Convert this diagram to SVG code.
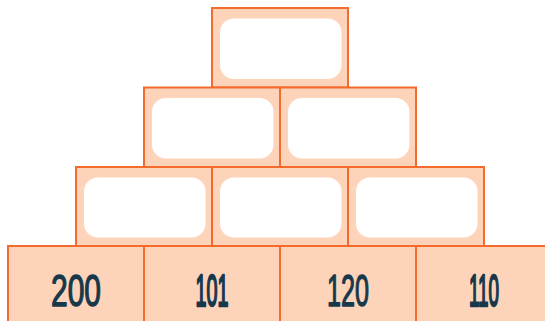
<svg xmlns="http://www.w3.org/2000/svg" width="545" height="321" viewBox="0 0 545 321">
<style>
.b{fill:#FDD4BA;stroke:#F56B2D;stroke-width:2}
.w{fill:#FFFFFF}
.t{font-family:"Liberation Sans",Arial,sans-serif;font-size:45px;fill:#17384A;stroke:#17384A;stroke-width:1.4;stroke-linejoin:round;text-anchor:middle}
.n{stroke-width:2.4}
</style>
<rect width="545" height="321" fill="#FFFFFF"/>
<g id="row0-brick1"><rect class="b" x="212" y="8" width="136" height="79.5"/><rect class="w" x="220" y="18.5" width="121.5" height="60.5" rx="14"/></g>
<g id="row1-brick1"><rect class="b" x="144" y="87.5" width="136" height="79.5"/><rect class="w" x="152" y="98" width="121.5" height="60.5" rx="14"/></g>
<g id="row1-brick2"><rect class="b" x="280" y="87.5" width="136" height="79.5"/><rect class="w" x="288" y="98" width="121.5" height="60.5" rx="14"/></g>
<g id="row2-brick1"><rect class="b" x="76" y="167" width="136" height="79"/><rect class="w" x="84" y="177.5" width="121.5" height="60" rx="14"/></g>
<g id="row2-brick2"><rect class="b" x="212" y="167" width="136" height="79"/><rect class="w" x="220" y="177.5" width="121.5" height="60" rx="14"/></g>
<g id="row2-brick3"><rect class="b" x="348" y="167" width="136" height="79"/><rect class="w" x="356" y="177.5" width="121.5" height="60" rx="14"/></g>
<g id="row3-brick1"><rect class="b" x="8" y="246" width="136" height="82"/><text class="t" x="76" y="306" textLength="50" lengthAdjust="spacingAndGlyphs">200</text></g>
<g id="row3-brick2"><rect class="b" x="144" y="246" width="136" height="82"/><text class="t n" x="212" y="306" textLength="33" lengthAdjust="spacingAndGlyphs">101</text></g>
<g id="row3-brick3"><rect class="b" x="280" y="246" width="136" height="82"/><text class="t" x="348" y="306" textLength="42" lengthAdjust="spacingAndGlyphs">120</text></g>
<g id="row3-brick4"><rect class="b" x="416" y="246" width="136" height="82"/><text class="t n" x="484" y="306" textLength="30" lengthAdjust="spacingAndGlyphs">110</text></g>
<g id="connectors"></g>
</svg>
